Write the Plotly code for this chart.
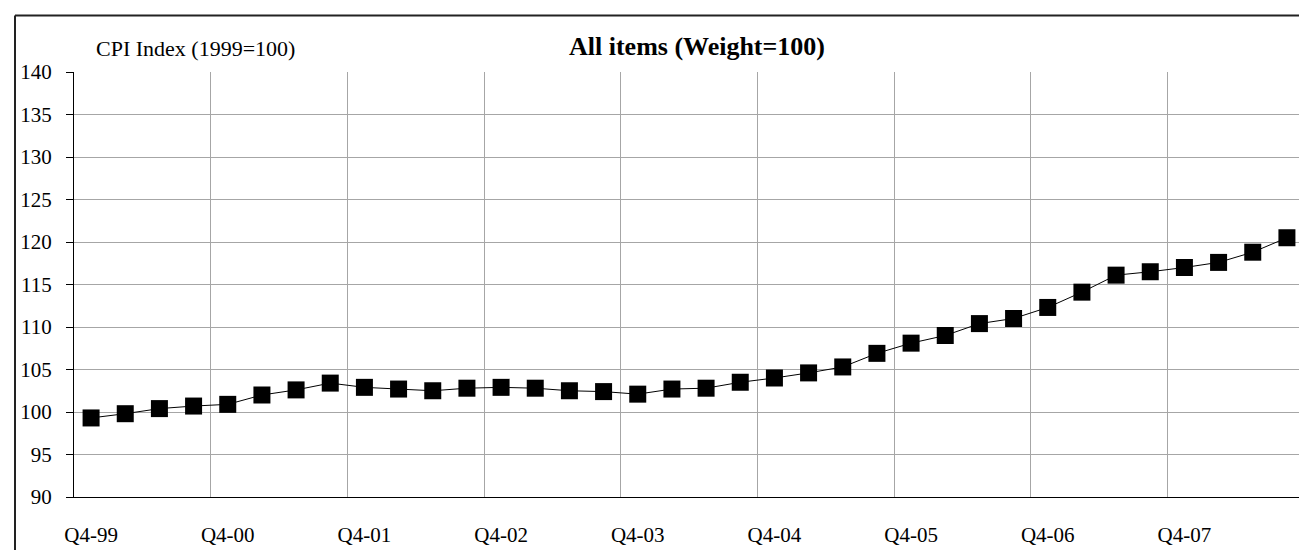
import plotly.graph_objects as go

# Quarterly CPI, all items (1999 = 100)
quarters = [
    "Q4-99", "Q1-00", "Q2-00", "Q3-00",
    "Q4-00", "Q1-01", "Q2-01", "Q3-01",
    "Q4-01", "Q1-02", "Q2-02", "Q3-02",
    "Q4-02", "Q1-03", "Q2-03", "Q3-03",
    "Q4-03", "Q1-04", "Q2-04", "Q3-04",
    "Q4-04", "Q1-05", "Q2-05", "Q3-05",
    "Q4-05", "Q1-06", "Q2-06", "Q3-06",
    "Q4-06", "Q1-07", "Q2-07", "Q3-07",
    "Q4-07", "Q1-08", "Q2-08", "Q3-08",
]
cpi = [
    99.3, 99.8, 100.4, 100.7,
    100.9, 102.0, 102.6, 103.4,
    102.9, 102.7, 102.5, 102.8,
    102.9, 102.8, 102.5, 102.4,
    102.1, 102.7, 102.8, 103.5,
    104.0, 104.6, 105.3, 106.9,
    108.1, 109.0, 110.4, 111.0,
    112.3, 114.1, 116.1, 116.5,
    117.0, 117.6, 118.8, 120.5,
]
label_quarters = quarters[::4]
y_ticks = list(range(90, 141, 5))

n = len(quarters)
idx = list(range(n))
label_pos = [quarters.index(q) for q in label_quarters]
grid_pos = [i - 0.5 for i in range(0, n + 1, 4)]
tick_pos = [i - 0.5 for i in range(0, n, 8)]

FONT = "Liberation Serif, Times New Roman, serif"
GRID = "#a6a6a6"

fig = go.Figure()
fig.add_trace(go.Scatter(
    x=idx, y=cpi, mode="lines+markers",
    line=dict(color="black", width=1),
    marker=dict(symbol="square", size=17, color="black"),
    hoverinfo="y", showlegend=False,
))

fig.update_layout(
    width=1307, height=550,
    margin=dict(l=66, r=11, t=64, b=58),
    paper_bgcolor="white", plot_bgcolor="white",
    font=dict(family=FONT, size=21, color="black"),
    title=dict(text="<b>All items (Weight=100)</b>", x=689 / 1307, y=1 - 38 / 550,
               xanchor="center", yanchor="middle",
               font=dict(family=FONT, size=26, color="black")),
    xaxis=dict(
        range=[-0.5, n - 0.5], tickmode="array", tickvals=label_pos, ticktext=label_quarters,
        ticks="", showgrid=False, zeroline=False,
        showline=True, linecolor="black", linewidth=1,
        minor=dict(tickmode="array", tickvals=grid_pos, showgrid=True,
                   gridcolor=GRID, gridwidth=1, ticks=""),
        tickfont=dict(family=FONT, size=21), ticklabelstandoff=19,
    ),
    xaxis2=dict(
        overlaying="x", anchor="y", side="bottom",
        range=[-0.5, n - 0.5], tickmode="array", tickvals=tick_pos,
        ticks="outside", ticklen=7, tickcolor="black", tickwidth=1,
        showticklabels=False, showgrid=False, zeroline=False, showline=False,
    ),
    yaxis=dict(
        range=[90, 140], tickmode="array", tickvals=y_ticks,
        ticks="outside", ticklen=7, tickcolor="black",
        showgrid=True, gridcolor=GRID, gridwidth=1, zeroline=False,
        showline=True, linecolor="black", linewidth=1,
        tickfont=dict(family=FONT, size=21), ticklabelstandoff=10,
    ),
)

fig.add_annotation(
    text="CPI Index (1999=100)", xref="paper", yref="paper",
    x=20 / 1230, y=1 + 24 / 428, xanchor="left", yanchor="middle",
    showarrow=False, font=dict(family=FONT, size=22, color="black"),
)

# chart-area border (left and top edges are inside the frame)
bx = -59 / 1230
by = 1 + 57 / 428
fig.add_shape(type="line", xref="paper", yref="paper", x0=bx, x1=bx, y0=by, y1=-0.3,
              line=dict(color="#222222", width=2))
fig.add_shape(type="line", xref="paper", yref="paper", x0=bx, x1=1.2, y0=by, y1=by,
              line=dict(color="#222222", width=2))

fig.write_html("out.html")
